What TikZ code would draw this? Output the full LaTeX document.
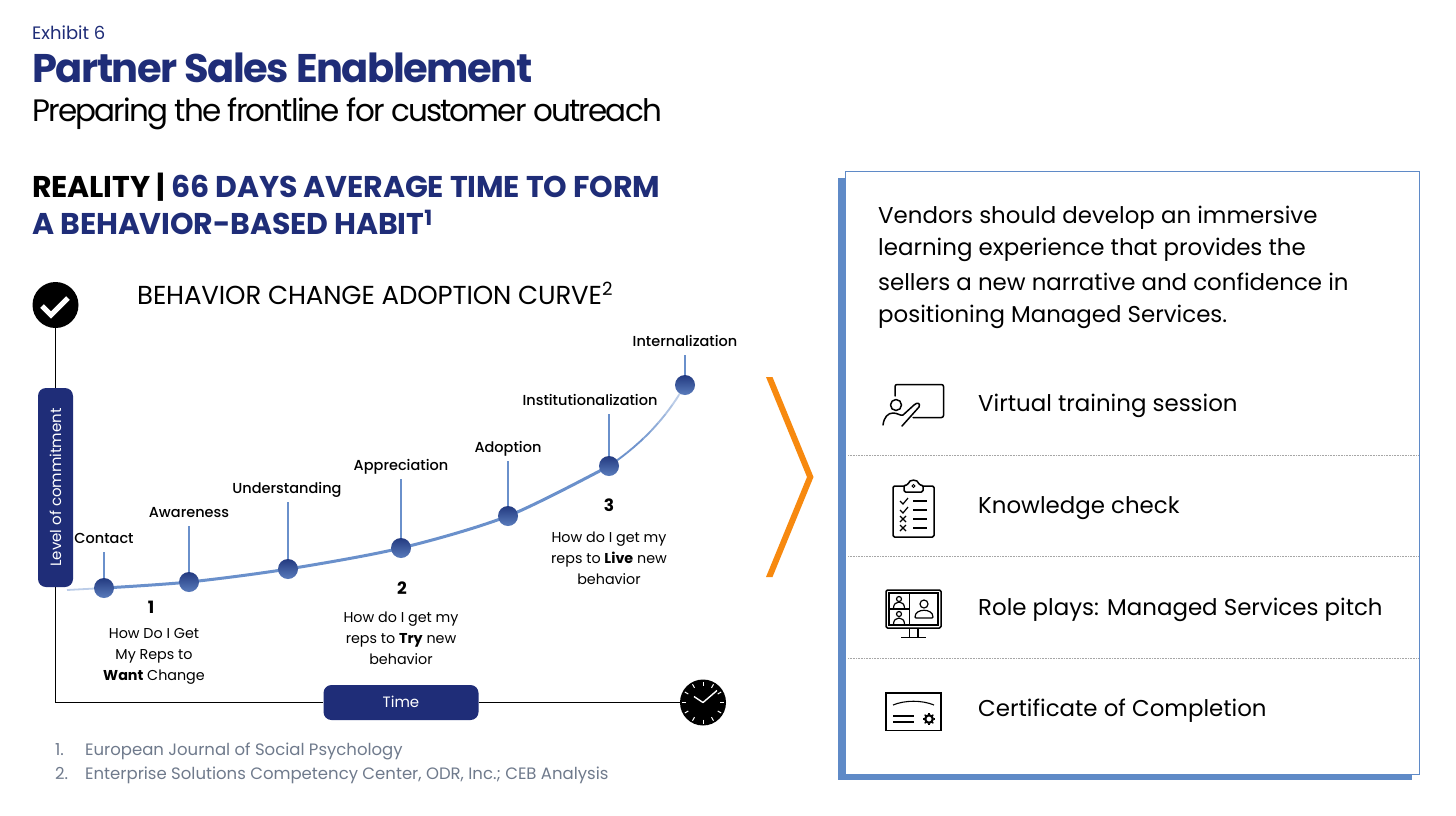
\documentclass[tikz,border=0pt]{standalone}
\usepackage{fontspec}
\setmainfont{Poppins}
\newfontfamily\popmed{Poppins}[UprightFont=* Medium,BoldFont=* Bold]
\usetikzlibrary{shapes.misc}
\definecolor{navy}{HTML}{1F2D78}
\definecolor{curveblue}{HTML}{6A90CB}
\definecolor{panelblue}{HTML}{5F8AC7}
\definecolor{notegray}{HTML}{6F7A8C}
\definecolor{orangec}{HTML}{F7890F}
\definecolor{BallTop}{HTML}{233A80}
\definecolor{BallBot}{HTML}{5A7CBC}
\tikzset{
 x=1pt,y=-1pt,
 stagelabel/.style={font=\fontsize{14.5}{16}\popmed,inner xsep=0pt,inner ysep=6pt,text height=10pt,text depth=3pt,anchor=base},
 ball/.style={circle,minimum size=20pt,inner sep=0pt,shade,top color=BallTop,bottom color=BallBot},
 stem/.style={curveblue,line width=1.2pt},
 pill/.style={rounded corners=8pt,fill=navy,text=white,inner sep=0pt,font=\fontsize{15}{18}\selectfont},
 bodyt/.style={anchor=base west,inner sep=0pt,font=\fontsize{22.9}{30}\selectfont},
 steptext/.style={align=center,inner sep=0pt,font=\fontsize{14.3}{21}\selectfont,anchor=north},
 stepnum/.style={inner sep=0pt,font=\fontsize{17}{20}\selectfont\bfseries},
 sep/.style={densely dotted,gray!70,line width=.6pt},
 icon/.style={line width=1.5pt,line cap=round,line join=round,black},
 note/.style={anchor=base west,inner sep=0pt,text=notegray,font=\fontsize{16.5}{20}\selectfont},
}
\begin{document}
\begin{tikzpicture}
\useasboundingbox (0,0) rectangle (1456,815);
\fill[white] (0,0) rectangle (1456,815);
% titles
\node[anchor=west,inner sep=0,text=navy,font=\fontsize{18}{20}\selectfont] (ex) at (32,33) {Exhibit 6};
\node[anchor=west,inner sep=0,text=navy,font=\fontsize{40}{44}\selectfont\bfseries\addfontfeature{LetterSpace=-3.7}] (ttl) at (32,68) {Partner Sales Enablement};
\node[anchor=west,inner sep=0,font=\fontsize{31}{36}\selectfont\addfontfeature{LetterSpace=-5.9}] (sub) at (32,114) {Preparing the frontline for customer outreach};
\node[anchor=west,inner sep=0,font=\fontsize{30}{36}\selectfont\bfseries\addfontfeature{LetterSpace=-.5}] (h1) at (32,187) {REALITY | \textcolor{navy}{66 DAYS AVERAGE TIME TO FORM}};
\node[anchor=west,inner sep=0,text=navy,font=\fontsize{30}{36}\selectfont\bfseries\addfontfeature{LetterSpace=-.5}] (h2) at (32,222) {A BEHAVIOR-BASED HABIT\textsuperscript{1}};
\node[anchor=west,inner sep=0,font=\fontsize{26}{30}\selectfont\addfontfeature{LetterSpace=-.5}] (ct) at (137,293) {BEHAVIOR CHANGE ADOPTION CURVE\textsuperscript{2}};
% axes
\node[circle,fill=black,minimum size=46pt,inner sep=0] (chk) at (55.5,305) {};
\draw[white,line width=5pt] (42,306) -- (51,315) -- (68,298);
\node[pill,minimum width=35pt,minimum height=199pt] (lev) at (55.5,487.5) {\rotatebox{90}{Level of commitment}};
\node[pill,minimum width=155pt,minimum height=35pt] (time) at (401,702.5) {\raisebox{.7pt}{Time}};
\node[circle,fill=black,minimum size=46pt,inner sep=0] (clk) at (703,702.5) {};
\coordinate (corner) at (55.5,702.5);
\draw[line width=1.2pt] (chk) -- (lev);
\draw[line width=1.2pt] (lev) -- (corner) -- (time);
\draw[line width=1.2pt] (time) -- (clk);
% clock
\foreach \a in {0,30,...,330}{\draw[white,line width=1pt] (clk)++(\a:17) -- ++(\a:4);}
\draw[white,line width=1.4pt] (clk)+(0,0) -- +(-9,-6);
\draw[white,line width=1.4pt] (clk)+(0,0) -- +(14,-12);
% curve
\coordinate (c0) at (67,590);
\coordinate (c1) at (104,588);
\coordinate (c2) at (189,582);
\coordinate (c3) at (288,569);
\coordinate (c4) at (401,548);
\coordinate (c5) at (508,516);
\coordinate (c6) at (609,466);
\coordinate (c7) at (685,385);
\draw[curveblue!45,line width=1.8pt] (c0) -- (c1);
\draw[curveblue,line width=3pt] plot[smooth,tension=.5] coordinates {(c1) (c2) (c3) (c4) (c5) (c6)};
\foreach \a/\b/\p in {0/.2/100,.2/.4/95,.4/.5/85,.5/.6/75,.6/.7/65,.7/.8/55,.8/.9/45,.9/1/40}{
 \draw[curveblue!\p,line width=1.9pt] plot[domain=\a:\b,samples=6]
  ({(1-\x)^3*609+3*(1-\x)^2*\x*640+3*(1-\x)*\x^2*665+\x^3*685},{(1-\x)^3*466+3*(1-\x)^2*\x*445+3*(1-\x)*\x^2*420+\x^3*385});
}
\foreach \i/\t/\x/\y in {1/Contact/104/543,2/Awareness/189/517,3/Understanding/287/493,4/Appreciation/401/470,5/Adoption/508/452,6/Institutionalization/590/405,7/Internalization/685/346}{
 \node[ball] (b\i) at (c\i) {};
 \node[stagelabel] (l\i) at (\x,\y) {\t};
}
\foreach \i in {1,...,7}{\draw[stem] (l\i.south -| b\i) -- (b\i);}
% step texts
\node[stepnum] (n1) at (151,607) {1};
\node[steptext] (s1) at (154,628) {How Do I Get\\My Reps to\\\textbf{Want} Change};
\node[stepnum] (n2) at (402,588) {2};
\node[steptext] (s2) at (401,612) {How do I get my\\reps to \textbf{Try} new\\behavior};
\node[stepnum] (n3) at (609,505) {3};
\node[steptext] (s3) at (609,532) {How do I get my\\reps to \textbf{Live} new\\behavior};
% chevron
\fill[orangec] (766,377) -- (772.5,377) -- (813.5,477) -- (772.5,577) -- (766,577) -- (807,477) -- cycle;
% notes
\node[note] (f1) at (55,755) {1.};
\node[note] (f1t) at (85,755) {European Journal of Social Psychology};
\node[note] (f2) at (55,779) {2.};
\node[note] (f2t) at (85,779) {Enterprise Solutions Competency Center, ODR, Inc.; CEB Analysis};
% panel
\fill[panelblue] (838,178) rectangle (1412,780);
\node[draw=panelblue,fill=white,line width=1pt,minimum width=574pt,minimum height=603pt,inner sep=0,anchor=north west] (panel) at (845,170.5) {};
\node[bodyt] (p1) at (878,223) {Vendors should develop an immersive};
\node[bodyt] (p2) at (878,255) {learning experience that provides the};
\node[bodyt] (p3) at (878,290) {sellers a new narrative and confidence in};
\node[bodyt] (p4) at (878,322) {positioning Managed Services.};
\node[bodyt] (i1) at (978,411) {Virtual training session};
\node[bodyt] (i2) at (978,513) {Knowledge check};
\node[bodyt] (i3) at (978,615) {Role plays: Managed Services pitch};
\node[bodyt] (i4) at (978,716) {Certificate of Completion};
\draw[sep] (848,455) -- (1418,455);
\draw[sep] (848,556) -- (1418,556);
\draw[sep] (848,658) -- (1418,658);
% icon 1 : trainer
\draw[icon,rounded corners=2pt] (895,396) -- (895,384.5) -- (943.5,384.5) -- (943.5,417.5) -- (913,417.5);
\draw[icon] (896,405) circle (5.5);
\draw[icon] (883,425) .. controls (884,417) and (888,413) .. (893,413) .. controls (898,413) and (900,416) .. (903,415) -- (914,405) .. controls (917,402) and (921,403) .. (919,407) -- (902,426);
% icon 2 : clipboard
\draw[icon,rounded corners=1.5pt] (904,486) -- (893,486) -- (893,537) -- (934,537) -- (934,486) -- (923,486);
\draw[icon,rounded corners=1.5pt] (904,492) -- (904,485) -- (908,485) .. controls (909,479) and (918,479) .. (919,485) -- (923,485) -- (923,492) -- cycle;
\draw[line width=1pt] (913.5,486) circle (1.5);
\foreach \y in {501,510,519,528}{\draw[line width=1.2pt] (913,\y) -- (927,\y);}
\draw[line width=1.2pt] (900,501) -- (903,504) -- (908,498);
\draw[line width=1.2pt] (900,510) -- (903,513) -- (908,507);
\draw[line width=1.2pt] (900,516) -- (906,522) (906,516) -- (900,522);
\draw[line width=1.2pt] (900,525) -- (906,531) (906,525) -- (900,531);
% icon 3 : monitor
\draw[icon,rounded corners=1.5pt] (886,590) rectangle (941,628);
\draw[line width=1.2pt] (889,593) rectangle (938,625);
\draw[line width=1.2pt] (909.5,593) -- (909.5,625) (889,609) -- (909.5,609);
\draw[line width=1.2pt] (899,599) circle (2.5) (899,614) circle (2.5);
\draw[line width=1.2pt] (893.5,608) .. controls (893.5,600) and (904.5,600) .. (904.5,608);
\draw[line width=1.2pt] (893.5,624) .. controls (893.5,616) and (904.5,616) .. (904.5,624);
\draw[line width=1.2pt] (924,604) circle (4);
\draw[line width=1.2pt,rounded corners=1pt] (915,618) .. controls (915,608) and (933,608) .. (933,618) -- cycle;
\draw[line width=1.2pt] (909.5,629) -- (909.5,637) (918,629) -- (918,637) (901,637.5) -- (926,637.5);
% icon 4 : certificate
\draw[line width=1.3pt] (886,693) rectangle (941,730.5);
\draw[line width=1.1pt] (893,705) .. controls (905,700) and (922,700) .. (934,705);
\draw[line width=1.1pt] (893,716) -- (914,716) (893,722) -- (914,722);
\draw[line width=2.2pt] (929,719) circle (3.8);
\foreach \a in {0,45,...,315}{\draw[line width=1.3pt] (929,719)++(\a:4.5) -- ++(\a:1.6);}
\end{tikzpicture}
\end{document}
